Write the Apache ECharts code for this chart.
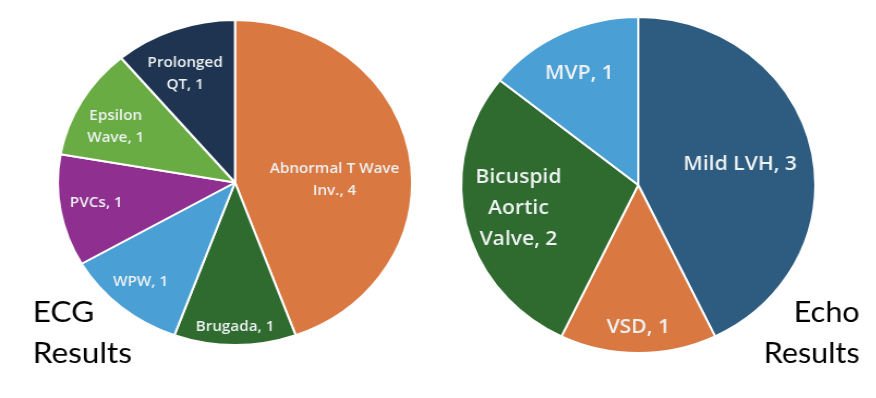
<!DOCTYPE html>
<html>
<head>
<meta charset="utf-8">
<script src="https://cdn.jsdelivr.net/npm/echarts@6/dist/echarts.min.js"></script>
<style>
  html, body { margin: 0; padding: 0; background: #fff; }
  #wrap { position: relative; width: 876px; height: 398px; overflow: hidden; }
  .pie { position: absolute; top: 0; height: 398px; transform-origin: 0 0; }
  /* the source picture is a little wider than tall, so each pie is stretched */
  #ecg { left: 0; width: 402px; transform: scaleX(1.09); }
  #echo { left: 438px; width: 416px; transform: scaleX(1.054); }
</style>
</head>
<body>
<div id="wrap">
  <div id="ecg" class="pie"></div>
  <div id="echo" class="pie"></div>
</div>
<script>
// ECG results
var ecgCategories = ["Abnormal T Wave\nInv.", "Brugada", "WPW", "PVCs", "Epsilon\nWave", "Prolonged\nQT"];
var ecgValues = [4, 1, 1, 1, 1, 1];
var ecgColors = ["#d97841", "#2f6a2f", "#4a9fd4", "#8f2f8f", "#69ac44", "#1f3450"];

// Echo results
var echoCategories = ["Mild LVH", "VSD", "Bicuspid\nAortic\nValve", "MVP"];
var echoValues = [3, 1, 2, 1];
var echoColors = ["#2e5c80", "#d97841", "#2f6a2f", "#4a9fd4"];

// how far out (fraction of radius) each slice label sits, plus a small nudge
var ecgLabelRadius = [0.55, 0.88, 0.8, 0.8, 0.75, 0.73];
var ecgLabelNudge = [[0, 14], [0, -4], [0, -4], [6, -3], [0, 8], [-4, 7]];
var echoLabelRadius = [0.57, 0.85, 0.67, 0.74];
var echoLabelNudge = [[0, 1], [0, -6], [0, -3], [0, 4]];

function drawPie(domId, cfg) {
  var chart = echarts.init(document.getElementById(domId), null, { renderer: "canvas" });

  var data = cfg.categories.map(function(name, i) {
    return { name: name, value: cfg.values[i], itemStyle: { color: cfg.colors[i] } };
  });

  chart.setOption({
    animation: false,
    series: [{
      type: "pie",
      center: cfg.center,
      radius: cfg.radius,
      startAngle: 90,
      clockwise: true,
      data: data,
      itemStyle: { borderColor: "#fff", borderWidth: 2 },
      label: {
        show: true,
        position: "inside",
        formatter: "{b}, {c}",
        color: "#eef2f3",
        fontFamily: "Open Sans",
        fontWeight: 600,
        fontSize: cfg.fontSize,
        lineHeight: cfg.lineHeight,
        align: "center"
      },
      labelLine: { show: false },
      emphasis: { disabled: true },
      labelLayout: function(params) {
        // push the label out along its own ray from the centre
        var r = params.labelRect;
        var lx = r.x + r.width / 2;
        var ly = r.y + r.height / 2;
        var k = 2 * cfg.labelRadius[params.dataIndex] - 1;
        var nudge = cfg.labelNudge[params.dataIndex];
        return {
          dx: (lx - cfg.center[0]) * k + nudge[0] / cfg.stretch,
          dy: (ly - cfg.center[1]) * k + nudge[1]
        };
      }
    }],
    graphic: [{
      type: "text",
      x: cfg.titleX,
      y: cfg.titleY,
      z: 100,
      style: {
        text: cfg.title,
        fill: "#000",
        fontFamily: "Lato",
        fontSize: 29,
        lineHeight: 41,
        align: cfg.titleAlign,
        verticalAlign: "top"
      }
    }]
  });
  return chart;
}

drawPie("ecg", {
  categories: ecgCategories,
  values: ecgValues,
  colors: ecgColors,
  labelRadius: ecgLabelRadius,
  labelNudge: ecgLabelNudge,
  stretch: 1.09,
  center: [215.6, 182.5],
  radius: 162.5,
  fontSize: 14,
  lineHeight: 22,
  title: "ECG\nResults",
  titleX: 30,
  titleY: 292,
  titleAlign: "left"
});

drawPie("echo", {
  categories: echoCategories,
  values: echoValues,
  colors: echoColors,
  labelRadius: echoLabelRadius,
  labelNudge: echoLabelNudge,
  stretch: 1.054,
  center: [190, 185],
  radius: 168,
  fontSize: 20,
  lineHeight: 31,
  title: "Echo\nResults",
  titleX: 400,
  titleY: 292,
  titleAlign: "right"
});
</script>
</body>
</html>
